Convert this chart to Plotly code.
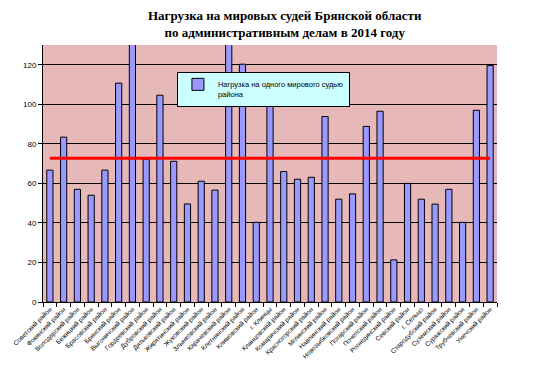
import plotly.graph_objects as go

categories = [
    "Советский район", "Фокинский район", "Володарский район", "Бежицкий район",
    "Брасовский район", "Брянский район", "Выгоничский район", "Гордеевский район",
    "Дубровский район", "Дятьковский район", "Жирятинский район", "Жуковский район",
    "Злынковский район", "Карачевский район", "Клетнянский район", "Климовский район",
    "г. Клинцы", "Клинцовский район", "Комаричский район", "Красногорский район",
    "Мглинский район", "Навлинский район", "Новозыбковский район", "Погарский район",
    "Почепский район", "Рогнединский район", "Севский район", "г. Сельцо",
    "Стародубский район", "Суземский район", "Суражский район", "Трубчевский район",
    "Унечский район",
]
load_values = [
    66.7, 83.4, 57.0, 54.0, 66.7, 110.7, 133.0, 72.2,
    104.6, 71.2, 49.6, 61.1, 56.6, 133.0, 120.3, 40.3,
    103.6, 66.0, 62.1, 63.1, 93.8, 52.0, 54.7, 88.8,
    96.5, 21.3, 60.0, 52.0, 49.5, 57.0, 40.3, 97.0,
    119.6,
]
average_value = 72.7
series_name = "Нагрузка на одного мирового судью<br>района"
title_text = "Нагрузка на мировых судей Брянской области<br>по административным делам в 2014 году"
y_ticks = [0, 20, 40, 60, 80, 100, 120]

W, H = 527, 359

fig = go.Figure()
fig.add_trace(go.Bar(
    x=categories, y=load_values, name=series_name,
    marker=dict(color="#9999FF", line=dict(color="#000000", width=1)),
    width=0.45,
))
fig.add_trace(go.Scatter(
    x=categories, y=[average_value] * len(categories), mode="lines",
    line=dict(color="#FF0000", width=3), showlegend=False, hoverinfo="skip",
))

fig.update_layout(
    width=W, height=H,
    margin=dict(l=35, r=38, t=37, b=65),
    paper_bgcolor="#FFFFFF",
    plot_bgcolor="#E6B9B8",
    font=dict(family="Liberation Sans, Arial, sans-serif", color="#000000"),
    title=dict(
        text="<b>" + title_text + "</b>",
        x=0.525, xanchor="center", y=1 - 12 / H, yanchor="middle",
        font=dict(family="Liberation Serif, Times New Roman, serif", size=13, color="#000000"),
    ),
    showlegend=True,
    legend=dict(
        x=0.295, y=0.895, xanchor="left", yanchor="top",
        bgcolor="#CCFFFF", bordercolor="#000000", borderwidth=1,
        font=dict(size=7.5), valign="top", itemwidth=30,
    ),
    bargap=0.5,
)
fig.update_xaxes(
    type="category", tickangle=-45, tickfont=dict(size=6.5),
    showline=True, linecolor="#000000", linewidth=1,
    ticks="outside", tickson="boundaries", ticklen=4, tickcolor="#000000",
    showgrid=False, automargin=False,
)
fig.update_yaxes(
    range=[0, 130], tickvals=y_ticks, tickfont=dict(size=8),
    showline=True, linecolor="#000000", linewidth=1,
    ticks="outside", ticklen=4, tickcolor="#000000",
    showgrid=True, gridcolor="#000000", gridwidth=1, zeroline=False,
    automargin=False,
)

fig.write_html("out.html")
